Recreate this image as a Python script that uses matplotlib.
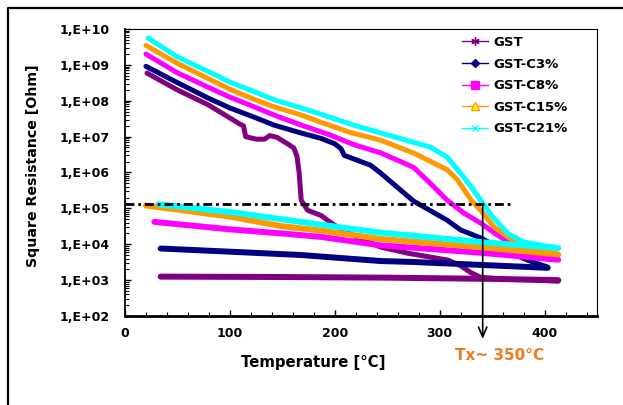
import numpy as np
import matplotlib
matplotlib.use("Agg")
import matplotlib.pyplot as plt
from matplotlib.lines import Line2D
from matplotlib.ticker import FixedLocator, MultipleLocator, LogLocator, FuncFormatter, NullFormatter

# GST : chauffage puis refroidissement
gst_heat_T = [21, 50, 79, 110, 113, 115, 125, 133, 138, 145, 155, 161, 164, 166, 168, 174, 187, 199,
              220, 244, 270, 308, 320, 330, 339, 360, 390, 413]
gst_heat_R = [5.9e8, 2.0e8, 7.8e7, 2.2e7, 2.0e7, 1.0e7, 8.5e6, 8.5e6, 1.07e7, 9.5e6, 6.3e6, 4.8e6, 2.8e6,
              1.0e6, 1.7e5, 8.9e4, 6.3e4, 3.5e4, 1.6e4, 8.3e3, 5.6e3, 3.6e3, 2.5e3, 1.6e3, 1.2e3,
              1.07e3, 1.0e3, 9.3e2]
gst_cool_T = [34, 150, 250, 350, 413]
gst_cool_R = [1.25e3, 1.22e3, 1.17e3, 1.08e3, 1.0e3]

# GST-C3%
c3_heat_T = [20, 50, 79, 100, 123, 142, 168, 187, 200, 206, 209, 234, 244, 275, 307, 320, 339, 360, 385, 403]
c3_heat_R = [9.1e8, 3.2e8, 1.2e8, 6.3e7, 3.5e7, 2.1e7, 1.26e7, 8.9e6, 6.3e6, 4.6e6, 3.0e6, 1.6e6,
             9.5e5, 1.6e5, 4.7e4, 2.5e4, 1.5e4, 7.1e3, 3.5e3, 2.3e3]
c3_cool_T = [34, 100, 168, 244, 275, 403]
c3_cool_R = [7.6e3, 6.2e3, 5.0e3, 3.4e3, 3.2e3, 2.2e3]

# GST-C8%
c8_heat_T = [20, 50, 79, 100, 123, 142, 168, 196, 218, 244, 275, 291, 307, 323, 339, 355, 375, 395, 413]
c8_heat_R = [2.0e9, 6.0e8, 2.4e8, 1.26e8, 6.8e7, 4.0e7, 2.1e7, 1.1e7, 6.0e6, 3.5e6, 1.4e6, 5.0e5,
             1.7e5, 7.4e4, 3.9e4, 1.8e4, 7.9e3, 4.8e3, 3.7e3]
c8_cool_T = [28, 100, 149, 187, 244, 339, 413]
c8_cool_R = [4.2e4, 2.6e4, 2.0e4, 1.6e4, 9.3e3, 5.8e3, 3.7e3]

# GST-C15%
c15_heat_T = [20, 50, 79, 100, 123, 142, 168, 187, 215, 244, 275, 307, 317, 330, 339, 352, 365, 380, 413]
c15_heat_R = [3.5e9, 1.1e9, 4.2e8, 2.1e8, 1.1e8, 6.8e7, 4.0e7, 2.5e7, 1.3e7, 7.9e6, 3.5e6, 1.2e6,
              6.2e5, 1.7e5, 8.9e4, 3.0e4, 1.6e4, 8.9e3, 5.2e3]
c15_cool_T = [20, 100, 149, 187, 244, 339, 413]
c15_cool_R = [1.2e5, 5.9e4, 3.2e4, 2.4e4, 1.4e4, 8.3e3, 5.2e3]

# GST-C21%
c21_heat_T = [22, 50, 79, 100, 123, 142, 168, 187, 218, 244, 291, 307, 320, 330, 339, 349, 365, 380, 413]
c21_heat_R = [5.6e9, 1.66e9, 6.6e8, 3.3e8, 1.8e8, 1.07e8, 6.3e7, 4.2e7, 2.1e7, 1.26e7, 5.1e6, 2.7e6,
              9.5e5, 4.0e5, 1.7e5, 6.5e4, 2.0e4, 1.15e4, 7.8e3]
c21_cool_T = [32, 100, 149, 187, 244, 339, 413]
c21_cool_R = [1.3e5, 7.9e4, 5.0e4, 3.5e4, 2.1e4, 1.15e4, 7.8e3]

labels = ["GST", "GST-C3%", "GST-C8%", "GST-C15%", "GST-C21%"]
colors = ["#800080", "#000080", "#FF00FF", "#FF9900", "#00FFFF"]

tx_R = 1.3e5      # niveau de la ligne pointillée
tx_T_end = 370
tx_T = 341

series = [
    (gst_heat_T, gst_heat_R, gst_cool_T, gst_cool_R),
    (c3_heat_T, c3_heat_R, c3_cool_T, c3_cool_R),
    (c8_heat_T, c8_heat_R, c8_cool_T, c8_cool_R),
    (c15_heat_T, c15_heat_R, c15_cool_T, c15_cool_R),
    (c21_heat_T, c21_heat_R, c21_cool_T, c21_cool_R),
]

fig = plt.figure(figsize=(6.23, 4.05), dpi=100)
ax = fig.add_axes([0.2006, 0.2198, 0.7577, 0.7086])

for i, (hT, hR, cT, cR) in enumerate(series):
    ax.plot(hT, hR, color=colors[i], lw=3.6, solid_capstyle="round", solid_joinstyle="round", zorder=2 + i)
    ax.plot(cT, cR, color=colors[i], lw=4.3, solid_capstyle="round", zorder=2 + i)

# ligne Tx
ax.plot([0, tx_T_end], [tx_R, tx_R], color="black", lw=2,
        linestyle=(0, (3.2, 1.4, 1, 1.4)), zorder=10)
ax.annotate("", xy=(tx_T, -0.08), xycoords=("data", "axes fraction"),
            xytext=(tx_T, tx_R), textcoords="data",
            arrowprops=dict(arrowstyle="->,head_length=0.7,head_width=0.3", color="black", lw=1.2,
                            shrinkA=0, shrinkB=0),
            annotation_clip=False, zorder=11)

ax.set_yscale("log")
ax.set_ylim(1e2, 1e10)
ax.set_xlim(0, 450)

ax.yaxis.set_major_locator(FixedLocator([10.0 ** k for k in range(2, 11)]))
ax.yaxis.set_minor_locator(LogLocator(base=10, subs=range(2, 10), numticks=20))
ax.yaxis.set_major_formatter(FuncFormatter(lambda v, pos: "1,E+%02d" % round(np.log10(v))))
ax.yaxis.set_minor_formatter(NullFormatter())
ax.xaxis.set_major_locator(FixedLocator([0, 100, 200, 300, 400]))
ax.xaxis.set_minor_locator(MultipleLocator(20))

ax.tick_params(which="both", direction="in", colors="black")
ax.tick_params(which="major", length=4, width=1)
ax.tick_params(which="minor", length=3, width=0.8)
ax.tick_params(axis="x", pad=8)
ax.tick_params(axis="y", pad=11)
for lab in ax.get_xticklabels() + ax.get_yticklabels():
    lab.set_fontweight("bold")
    lab.set_fontsize(9)

ax.spines["bottom"].set_linewidth(2)
ax.spines["left"].set_linewidth(1.3)
ax.spines["top"].set_linewidth(0.8)
ax.spines["right"].set_linewidth(0.8)

fig.text(313 / 623, 1 - 362 / 405, "Temperature [°C]", ha="center", va="center",
         fontsize=10.7, fontweight="bold")
fig.text(33 / 623, 1 - 166 / 405, "Square Resistance [Ohm]", ha="center", va="center",
         rotation=90, fontsize=10.2, fontweight="bold")
fig.text(500 / 623, 1 - 355 / 405, "Tx~ 350°C", ha="center", va="center",
         fontsize=11, fontweight="bold", color="#EE7A1E")

# légende avec petits marqueurs
markers = [dict(marker=(6, 2, 0), markersize=6),
           dict(marker="D", markersize=4),
           dict(marker="s", markersize=6),
           dict(marker="^", markersize=6, markerfacecolor="#FFFF00"),
           dict(marker="x", markersize=5)]
handles = [Line2D([], [], color=colors[i], lw=1, **markers[i]) for i in range(5)]
ax.legend(handles, labels, loc="upper left", bbox_to_anchor=(462 / 623, 1 - 36 / 405),
          bbox_transform=fig.transFigure, frameon=False, borderpad=0, borderaxespad=0,
          handlelength=2.0, handletextpad=0.4, labelspacing=0.65,
          prop=dict(weight="bold", size=9.5))

# cadre extérieur
fig.add_artist(Line2D([8 / 623, 8 / 623, 1.0], [0, 1 - 8 / 405, 1 - 8 / 405],
                      transform=fig.transFigure, color="black", lw=1.6))

fig.savefig("out.png", dpi=100)
